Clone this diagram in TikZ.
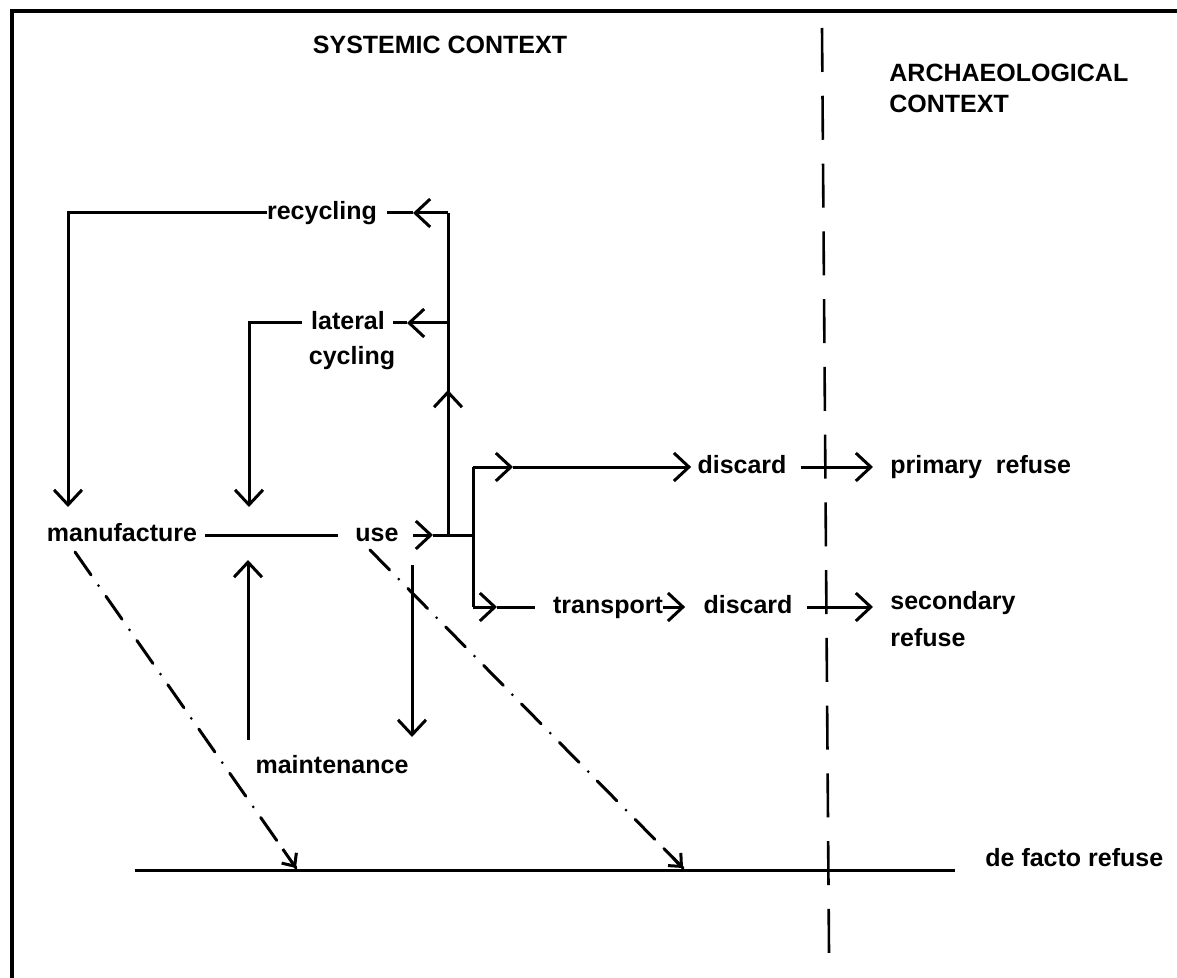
\documentclass[tikz,border=0pt]{standalone}
\usepackage{fontspec}
\setmainfont{Liberation Sans}
\usetikzlibrary{arrows.meta,calc}
\begin{document}
\begin{tikzpicture}[x=0.5pt,y=-0.5pt,
  ln/.style={line width=1.5pt},
  arr/.style={ln,-{Straight Barb[length=7.5pt,width=14pt]}},
  sarr/.style={ln,-{Straight Barb[length=5pt,width=9pt]}},
  lbl/.style={inner sep=0pt,font=\fontsize{12.5}{15}\selectfont\bfseries,text height=1.6ex,text depth=0.35ex},
  dashdot/.style={ln,line cap=round,dash pattern=on 14pt off 6.5pt on 0pt off 6.5pt},
  divider/.style={line width=1.3pt,dash pattern=on 22pt off 11.88pt}
]
\useasboundingbox (0,0) rectangle (1177,978);
% frame
\draw[line width=1.8pt] (12,978) -- (12,11) -- (1177,11);

% headings
\node[lbl] (sys) at (440,47) {SYSTEMIC CONTEXT};
\node[lbl,anchor=west] (arch) at (889,75) {ARCHAEOLOGICAL};
\node[lbl,anchor=west] (ctx) at (889,106) {CONTEXT};

% labels
\node[lbl] (rec) at (322,213) {recycling};
\node[lbl] (lat) at (348,323) {lateral};
\node[lbl] (cyc) at (352,358) {cycling};
\node[lbl] (man) at (122,535) {manufacture};
\node[lbl] (use) at (377,535) {use};
\node[lbl] (mai) at (332,767) {maintenance};
\node[lbl] (dis1) at (742,467) {discard};
\node[lbl,anchor=west] (pri) at (890,467) {primary\ \ refuse};
\node[lbl] (tra) at (608,607) {transport};
\node[lbl] (dis2) at (748,607) {discard};
\node[lbl,anchor=west] (sec) at (890,603) {secondary};
\node[lbl,anchor=west] (ref) at (890,640) {refuse};
\node[lbl,anchor=west] (dfr) at (985,860) {de facto refuse};

% coordinates
\coordinate (vtop) at (448,213);
\coordinate (vlat) at (448,323);
\coordinate (vup) at (448,390);
\coordinate (vj) at (448,535);
\coordinate (ra) at (413,213);
\coordinate (la) at (407,323);
\coordinate (lend) at (393,323);
\coordinate (lcorner) at (249,323);
\coordinate (lstart) at (302,323);
\coordinate (rcorner) at (68,213);
\coordinate (ua) at (433,535);
\coordinate (ustart) at (413,535);
\coordinate (bj) at (473,535);
\coordinate (bt) at (473,467);
\coordinate (bb) at (473,607);
\coordinate (ta) at (513,467);
\coordinate (ba) at (497,607);
\coordinate (bend) at (535,607);

% recycling loop
\draw[ln] (vj) -- (vup);
\draw[arr] (vj) -- (vup);
\draw[ln] (vup) -- (vtop);
\draw[arr] (vtop) -- (ra);
\draw[ln] (ra) -- ($(rec.east)+(10,0)$);
\draw[arr] (rec.west) -- (rcorner) -- (68,507);

% lateral cycling
\draw[arr] (vlat) -- (la);
\draw[ln] (la) -- (lend);
\draw[arr] (lstart) -- (lcorner) -- (249,507);

% manufacture - use
\draw[ln] ($(man.east)+(8,0)$) -- ($(use.west)+(-17,0)$);
\draw[arr] (ustart) -- (ua);
\draw[ln] (ua) -- (bj);
\draw[ln] (bt) -- (bb);

% upper branch
\draw[arr] (bt) -- (ta);
\draw[arr] (ta) -- ($(dis1.west)+(-6,0)$);
\draw[arr] ($(dis1.east)+(14,0)$) -- ($(pri.west)+(-17,0)$);

% lower branch
\draw[arr] (bb) -- (ba);
\draw[ln] (ba) -- (bend);
\draw[arr] (tra.east) -- ($(dis2.west)+(-18,0)$);
\draw[arr] ($(dis2.east)+(14,0)$) -- ($(sec.west|-dis2)+(-17,0)$);

% maintenance
\draw[arr] (248,740) -- (248,560);
\draw[arr] (412,565) -- (412,737);

% de facto refuse
\coordinate (d1) at (296,868);
\coordinate (d2) at (683,868);
\draw[ln] (135,870) -- (955,870);
\draw[dashdot] (75,552) -- (d1);
\draw[sarr] ($(d1)!0.06!(75,552)$) -- (d1);
\draw[dashdot] (370,550) -- (d2);
\draw[sarr] ($(d2)!0.06!(370,550)$) -- (d2);

% divider
\draw[divider] (822,28) -- (829,953);
\end{tikzpicture}
\end{document}
